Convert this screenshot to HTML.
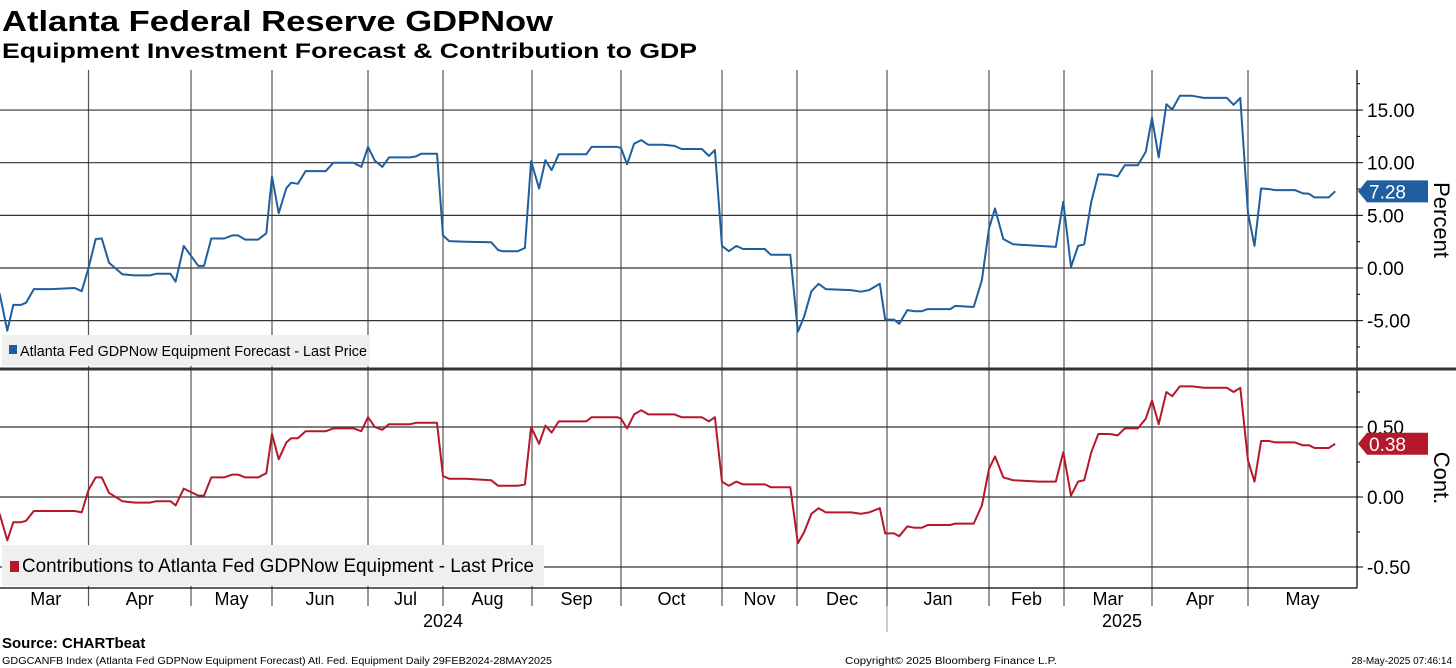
<!DOCTYPE html>
<html><head><meta charset="utf-8"><style>
body{margin:0;background:#fff}
svg{display:block;font-family:"Liberation Sans",sans-serif}
</style></head><body>
<svg id="chart" width="1456" height="668" viewBox="0 0 1456 668">
<text x="2" y="31" font-size="29" font-weight="bold" textLength="551" lengthAdjust="spacingAndGlyphs">Atlanta Federal Reserve GDPNow</text>
<text x="2" y="58" font-size="21" font-weight="bold" textLength="695" lengthAdjust="spacingAndGlyphs">Equipment Investment Forecast &amp; Contribution to GDP</text>
<g id="grid"></g>
<g id="series"></g>
<g id="axes"></g>
<text x="2" y="648" font-size="15" font-weight="bold">Source: CHARTbeat</text>
<text x="2" y="664" font-size="10" textLength="550" lengthAdjust="spacingAndGlyphs">GDGCANFB Index (Atlanta Fed GDPNow Equipment Forecast) Atl. Fed. Equipment  Daily 29FEB2024-28MAY2025</text>
<text x="845" y="664" font-size="10" textLength="212" lengthAdjust="spacingAndGlyphs">Copyright© 2025 Bloomberg Finance L.P.</text>
<text x="1452" y="664" font-size="10" text-anchor="end">28-May-2025 07:46:14</text>
</svg>
<script>
// time in months since 1 Mar 2024
const obsTime = [-0.04,0.05,0.12,0.21,0.27,0.36,0.56,0.84,0.92,1.00,1.07,1.13,1.20,1.33,1.45,1.60,1.66,1.80,1.85,1.93,2.09,2.16,2.25,2.41,2.51,2.58,2.67,2.83,2.93,3.00,3.07,3.15,3.20,3.27,3.35,3.56,3.64,3.85,3.93,4.00,4.09,4.19,4.28,4.56,4.64,4.71,4.92,5.00,5.07,5.25,5.54,5.62,5.67,5.84,5.92,5.99,6.08,6.15,6.22,6.30,6.61,6.67,6.96,7.00,7.06,7.13,7.20,7.27,7.42,7.53,7.60,7.80,7.87,7.93,8.00,8.09,8.19,8.28,8.57,8.65,8.91,9.01,9.08,9.16,9.24,9.32,9.60,9.71,9.80,9.92,9.98,10.07,10.12,10.20,10.27,10.34,10.40,10.62,10.67,10.85,10.93,11.00,11.08,11.19,11.32,11.67,11.89,11.99,12.08,12.16,12.23,12.31,12.39,12.52,12.61,12.69,12.84,12.93,13.00,13.07,13.15,13.21,13.29,13.42,13.54,13.78,13.85,13.92,14.00,14.06,14.12,14.19,14.25,14.43,14.50,14.56,14.61,14.74,14.80];
const forecastValues = [-2.4,-5.95,-3.5,-3.5,-3.3,-2.0,-2.0,-1.9,-2.2,0,2.75,2.8,0.5,-0.6,-0.7,-0.7,-0.55,-0.55,-1.3,2.1,0.2,0.2,2.8,2.8,3.1,3.1,2.7,2.7,3.3,8.7,5.2,7.6,8.1,8.0,9.2,9.2,10.0,10.0,9.6,11.5,10.2,9.6,10.5,10.5,10.6,10.85,10.85,3.1,2.55,2.5,2.45,1.7,1.6,1.6,1.9,10.15,7.55,10.25,9.3,10.8,10.8,11.5,11.5,11.4,9.85,11.8,12.15,11.7,11.7,11.6,11.3,11.3,10.65,11.2,2.1,1.6,2.1,1.8,1.8,1.25,1.25,-6.05,-4.6,-2.2,-1.5,-2.0,-2.1,-2.25,-2.1,-1.5,-4.9,-4.9,-5.3,-4.0,-4.1,-4.1,-3.9,-3.9,-3.6,-3.7,-1.15,3.75,5.65,2.75,2.25,2.1,2.0,6.3,0.1,2.1,2.25,6.3,8.9,8.85,8.7,9.75,9.75,11.05,14.25,10.5,15.55,15.05,16.35,16.35,16.15,16.15,15.5,16.15,5.2,2.1,7.55,7.5,7.4,7.4,7.1,7.05,6.7,6.7,7.28];
const contributionValues = [-0.12,-0.31,-0.18,-0.18,-0.17,-0.10,-0.10,-0.10,-0.11,0.05,0.14,0.14,0.03,-0.03,-0.04,-0.04,-0.03,-0.03,-0.06,0.06,0.01,0.01,0.14,0.14,0.16,0.16,0.14,0.14,0.17,0.45,0.27,0.39,0.42,0.42,0.47,0.47,0.49,0.49,0.47,0.57,0.50,0.48,0.52,0.52,0.53,0.53,0.53,0.15,0.13,0.13,0.12,0.08,0.08,0.08,0.09,0.50,0.38,0.51,0.46,0.54,0.54,0.57,0.57,0.56,0.49,0.59,0.62,0.59,0.59,0.59,0.57,0.57,0.54,0.57,0.11,0.08,0.11,0.09,0.09,0.07,0.07,-0.33,-0.25,-0.12,-0.08,-0.11,-0.11,-0.12,-0.11,-0.08,-0.26,-0.26,-0.28,-0.21,-0.22,-0.22,-0.20,-0.20,-0.19,-0.19,-0.06,0.20,0.29,0.14,0.12,0.11,0.11,0.32,0.01,0.11,0.12,0.32,0.45,0.45,0.44,0.49,0.49,0.56,0.69,0.52,0.75,0.72,0.79,0.79,0.78,0.78,0.75,0.78,0.26,0.11,0.40,0.40,0.39,0.39,0.37,0.37,0.35,0.35,0.38];
const monthLabels = ["Mar","Apr","May","Jun","Jul","Aug","Sep","Oct","Nov","Dec","Jan","Feb","Mar","Apr","May"];
const topTicks = [15,10,5,0,-5];
const topTickLabels = ["15.00","10.00","5.00","0.00","-5.00"];
const botTicks = [0.5,0,-0.5];
const botTickLabels = ["0.50","0.00","-0.50"];

const NS="http://www.w3.org/2000/svg";
const monthEdges=[3,88.5,191,272,368,443,532,621,722,797,887,989,1064,1152,1248,1357];
function xScale(t){
  let m=Math.floor(t); if(m<0)m=0; if(m>monthEdges.length-2)m=monthEdges.length-2;
  return monthEdges[m]+(t-m)*(monthEdges[m+1]-monthEdges[m]);
}
const yTop=v=>268-v*10.53;
const yBot=v=>497-v*140;
const PR=1357;
function mk(tag,attrs,parent){const e=document.createElementNS(NS,tag);for(const k in attrs)e.setAttribute(k,attrs[k]);parent.appendChild(e);return e;}
const grid=document.getElementById('grid'),ser=document.getElementById('series'),axes=document.getElementById('axes');

// vertical gridlines at month boundaries
for(let m=1;m<monthLabels.length;m++){
  const x=xScale(m);
  const l=mk('line',{x1:x,x2:x,y1:70,y2:606,stroke:'#555','stroke-width':1.2},grid);
  
  
}
topTicks.forEach((v,i)=>{
  const y=yTop(v);
  const l=mk('line',{x1:0,x2:PR,y1:y,y2:y,stroke:'#333','stroke-width':1.2},grid);
  
  
  mk('line',{x1:PR,x2:PR+6,y1:y,y2:y,stroke:'#000'},axes);
  const t=mk('text',{x:1367,y:y+7,'font-size':19},axes);t.textContent=topTickLabels[i];
  
  
});
[17.5,12.5,7.5,2.5,-2.5,-7.5].forEach(v=>mk('line',{x1:PR,x2:PR+3,y1:yTop(v),y2:yTop(v),stroke:'#000'},axes));
botTicks.forEach((v,i)=>{
  const y=yBot(v);
  const l=mk('line',{x1:0,x2:PR,y1:y,y2:y,stroke:'#333','stroke-width':1.2},grid);
  
  
  mk('line',{x1:PR,x2:PR+6,y1:y,y2:y,stroke:'#000'},axes);
  const t=mk('text',{x:1367,y:y+7,'font-size':19},axes);t.textContent=botTickLabels[i];
  
  
});
[0.25,-0.25,0.75].forEach(v=>mk('line',{x1:PR,x2:PR+3,y1:yBot(v),y2:yBot(v),stroke:'#000'},axes));

// legends
const lg1=mk('g',{},grid);


mk('rect',{x:2,y:335,width:368,height:31,fill:'#efefef'},lg1);
mk('rect',{x:9,y:345,width:8,height:9,fill:'#1f5fa0'},lg1);
const lt1=mk('text',{x:20,y:356,'font-size':15,textLength:347,lengthAdjust:'spacingAndGlyphs'},lg1);lt1.textContent="Atlanta Fed GDPNow Equipment Forecast - Last Price";
const lg2=mk('g',{},grid);


mk('rect',{x:2,y:545,width:542,height:41,fill:'#efefef'},lg2);
mk('rect',{x:10,y:561,width:9,height:11,fill:'#b5182b'},lg2);
const lt2=mk('text',{x:22,y:572,'font-size':19,textLength:512,lengthAdjust:'spacingAndGlyphs'},lg2);lt2.textContent="Contributions to Atlanta Fed GDPNow Equipment - Last Price";

// series lines
function line(vals,ys,color,name){
  const d=vals.map((v,i)=>(i?'L':'M')+xScale(obsTime[i]).toFixed(1)+','+ys(v).toFixed(1)).join('');
  const p=mk('path',{d:d,fill:'none',stroke:color,'stroke-width':2,'stroke-linejoin':'round'},ser);
  
  
}
line(forecastValues,yTop,'#1f5fa0','forecast-line');
line(contributionValues,yBot,'#b5182b','contribution-line');

// axes frame
mk('line',{x1:PR,x2:PR,y1:70,y2:588,stroke:'#000','stroke-width':1.2},axes);
mk('line',{x1:0,x2:1456,y1:369,y2:369,stroke:'#333','stroke-width':3},axes);
mk('line',{x1:0,x2:PR,y1:588,y2:588,stroke:'#000','stroke-width':1.2},axes);
mk('line',{x1:887,x2:887,y1:606,y2:632,stroke:'#999'},axes);

monthLabels.forEach((m,i)=>{
  const x=(xScale(i)+xScale(i+1))/2;
  const t=mk('text',{x:x,y:605,'font-size':18,'text-anchor':'middle'},axes);t.textContent=m;
  
  
});
[["2024",443],["2025",1122]].forEach(([y,x])=>{
  const t=mk('text',{x:x,y:627,'font-size':18,'text-anchor':'middle'},axes);t.textContent=y;
  
  
});

// value tags
function tag(v,y,color,name){
  const g=mk('g',{},axes);
  
  
  mk('path',{d:`M${PR+1},${y} L${PR+10},${y-11} L1428,${y-11} L1428,${y+11} L${PR+10},${y+11} Z`,fill:color},g);
  const t=mk('text',{x:1369,y:y+7,'font-size':19,fill:'#fff'},g);t.textContent=v.toFixed(2);
}
tag(forecastValues[forecastValues.length-1],yTop(forecastValues[forecastValues.length-1]),'#1f5fa0','forecast-value-tag');
tag(contributionValues[contributionValues.length-1],yBot(contributionValues[contributionValues.length-1]),'#b5182b','contribution-value-tag');

// axis titles
const a1=mk('text',{transform:'translate(1434,220) rotate(90)','font-size':22,'text-anchor':'middle'},axes);a1.textContent="Percent";


const a2=mk('text',{transform:'translate(1434,478) rotate(90)','font-size':22,'text-anchor':'middle'},axes);a2.textContent="Cont.";


</script>
</body></html>
